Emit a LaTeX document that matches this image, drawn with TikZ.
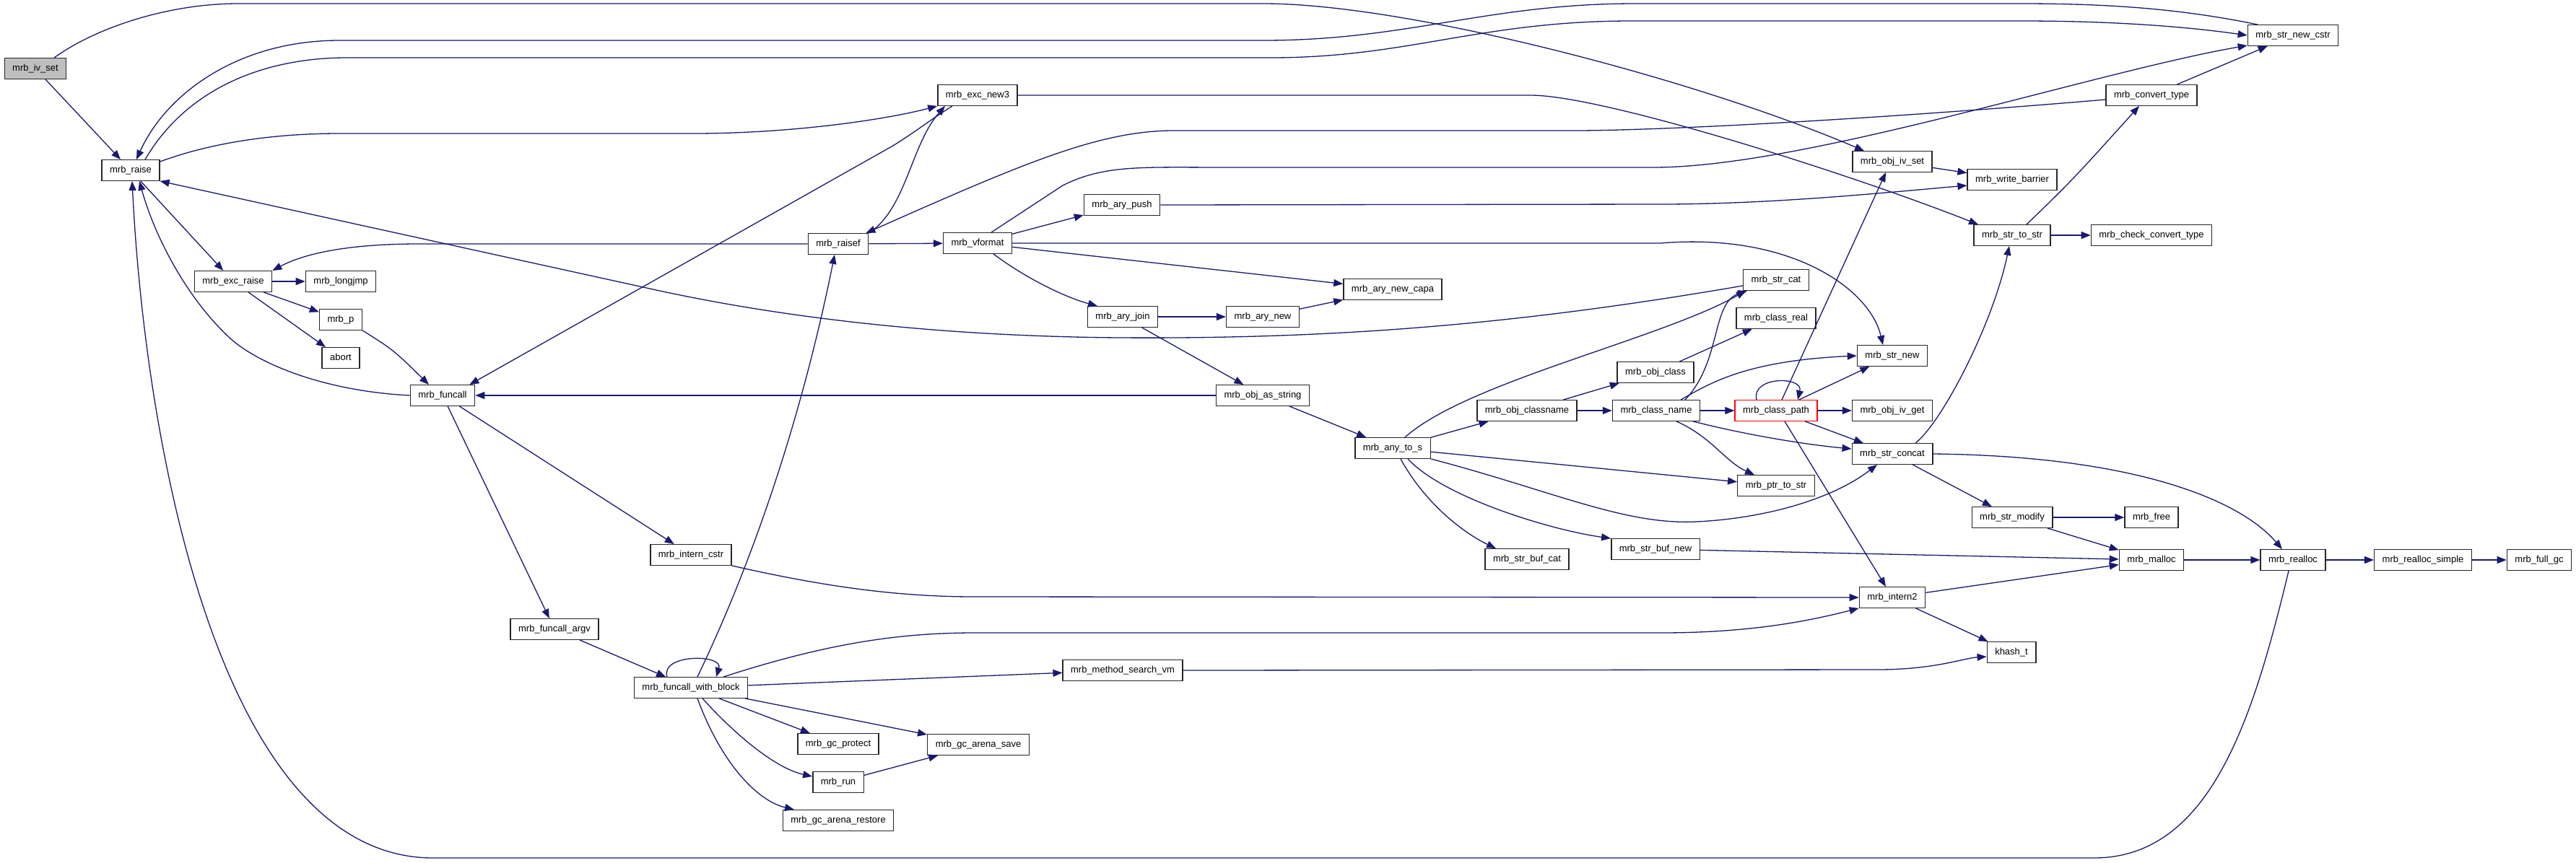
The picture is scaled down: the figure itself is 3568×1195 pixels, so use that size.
\documentclass[tikz,border=0pt]{standalone}
\usepackage{fontspec}
\newfontfamily\dxfont{Liberation Sans}
\usepackage{tikz}
\usetikzlibrary{arrows.meta}
\definecolor{callblue}{HTML}{191970}

\begin{document}
\begin{tikzpicture}[x=1pt, y=-1pt,
  fn/.style={draw=black!85, line width=1.4pt, fill=white, inner xsep=11pt, inner ysep=0pt,
    text height=10pt, text depth=3.5pt, minimum height=28.5pt, font=\dxfont\fontsize{13}{15}\selectfont},
  call/.style={draw=callblue, line width=1.3pt, -{Triangle[length=13pt,width=10pt]}}]
  \fill[white] (0,0) rectangle (3568,1195);
  \useasboundingbox (0,0) rectangle (3568,1195);

  % functions, column by column
  \node[fn, fill=black!25] (iv_set) at (49,95) {mrb\_iv\_set};
  \node[fn] (raise) at (181,236) {mrb\_raise};
  \node[fn] (exc_raise) at (323,390) {mrb\_exc\_raise};
  \node[fn] (longjmp) at (472,390) {mrb\_longjmp};
  \node[fn] (p) at (472,443) {mrb\_p};
  \node[fn] (abort) at (472,496) {abort};
  \node[fn] (funcall) at (613,548) {mrb\_funcall};
  \node[fn] (funcall_argv) at (768,872) {mrb\_funcall\_argv};
  \node[fn] (intern_cstr) at (957,769) {mrb\_intern\_cstr};
  \node[fn] (fwb) at (957,953) {mrb\_funcall\_with\_block};
  \node[fn] (raisef) at (1161,338) {mrb\_raisef};
  \node[fn] (gc_protect) at (1161,1031) {mrb\_gc\_protect};
  \node[fn] (run) at (1161,1084) {mrb\_run};
  \node[fn] (gc_restore) at (1161,1137) {mrb\_gc\_arena\_restore};
  \node[fn] (exc_new3) at (1354,132) {mrb\_exc\_new3};
  \node[fn] (vformat) at (1354,337) {mrb\_vformat};
  \node[fn] (gc_save) at (1355,1032) {mrb\_gc\_arena\_save};
  \node[fn] (ary_push) at (1554,284) {mrb\_ary\_push};
  \node[fn] (ary_join) at (1555,439) {mrb\_ary\_join};
  \node[fn] (search_vm) at (1555,929) {mrb\_method\_search\_vm};
  \node[fn] (ary_new) at (1749,439) {mrb\_ary\_new};
  \node[fn] (obj_as_string) at (1749,548) {mrb\_obj\_as\_string};
  \node[fn] (ary_new_capa) at (1929,401) {mrb\_ary\_new\_capa};
  \node[fn] (any_to_s) at (1929,621) {mrb\_any\_to\_s};
  \node[fn] (obj_classname) at (2115,569) {mrb\_obj\_classname};
  \node[fn] (str_buf_cat) at (2115,775) {mrb\_str\_buf\_cat};
  \node[fn] (obj_class) at (2293,516) {mrb\_obj\_class};
  \node[fn] (class_name) at (2294,569) {mrb\_class\_name};
  \node[fn] (str_buf_new) at (2293,761) {mrb\_str\_buf\_new};
  \node[fn] (str_cat) at (2460,388) {mrb\_str\_cat};
  \node[fn] (class_real) at (2460,441) {mrb\_class\_real};
  \node[fn, draw=red] (class_path) at (2460,569) {mrb\_class\_path};
  \node[fn] (ptr_to_str) at (2460,673) {mrb\_ptr\_to\_str};
  \node[fn] (obj_iv_set) at (2621,224) {mrb\_obj\_iv\_set};
  \node[fn] (str_new) at (2621,493) {mrb\_str\_new};
  \node[fn] (obj_iv_get) at (2621,569) {mrb\_obj\_iv\_get};
  \node[fn] (str_concat) at (2621,629) {mrb\_str\_concat};
  \node[fn] (intern2) at (2621,828) {mrb\_intern2};
  \node[fn] (write_barrier) at (2787,249) {mrb\_write\_barrier};
  \node[fn] (str_to_str) at (2787,326) {mrb\_str\_to\_str};
  \node[fn] (str_modify) at (2787,717) {mrb\_str\_modify};
  \node[fn] (khash) at (2786,904) {khash\_t};
  \node[fn] (convert_type) at (2980,132) {mrb\_convert\_type};
  \node[fn] (check_convert) at (2980,326) {mrb\_check\_convert\_type};
  \node[fn] (free) at (2980,717) {mrb\_free};
  \node[fn] (malloc) at (2980,776) {mrb\_malloc};
  \node[fn] (str_new_cstr) at (3176,49) {mrb\_str\_new\_cstr};
  \node[fn] (realloc) at (3176,776) {mrb\_realloc};
  \node[fn] (realloc_simple) at (3356,776) {mrb\_realloc\_simple};
  \node[fn] (full_gc) at (3517,776) {mrb\_full\_gc};

  % mrb_iv_set and mrb_raise
  \draw[call] (iv_set) -- (raise);
  \draw[call] ([xshift=26pt]iv_set.north) .. controls (130,40) and (230,5) .. (330,5) -- (1750,5)
    .. controls (1950,5) and (2350,110) .. ([xshift=-39pt]obj_iv_set.north);
  \draw[call] (raise) -- (exc_raise);
  \draw[call] ([yshift=12pt]raise.east) .. controls (300,195) and (390,185) .. (470,185) -- (960,185)
    .. controls (1100,185) and (1230,165) .. (exc_new3.south west);
  \draw[call] ([xshift=20pt]raise.north) .. controls (260,120) and (370,80) .. (480,80) -- (1760,80)
    .. controls (1950,80) and (2050,29) .. (2260,29) -- (2800,29)
    .. controls (2950,29) and (3050,40) .. (str_new_cstr.west);

  % calls back into mrb_raise
  \draw[call] ([xshift=-49pt]str_new_cstr.north) .. controls (3020,12) and (2920,5) .. (2800,5) -- (2265,5)
    .. controls (2060,5) and (1950,56) .. (1750,56) -- (470,56)
    .. controls (330,56) and (230,130) .. ([xshift=8pt]raise.north);
  \draw[call] ([yshift=-8pt]str_cat.west) .. controls (2100,450) and (1850,470) .. (1550,468)
    .. controls (1300,466) and (1080,440) .. (900,400) -- (raise.south east);
  \draw[call] (funcall.west) .. controls (450,542) and (360,505) .. (320,470)
    .. controls (260,415) and (215,330) .. ([xshift=12pt]raise.south);
  \draw[call] ([xshift=-6pt]realloc.south) .. controls (3120,1000) and (3060,1189) .. (2900,1189) -- (600,1189)
    .. controls (300,1189) and (200,600) .. ([xshift=2pt]raise.south);

  % mrb_exc_raise and mrb_funcall
  \draw[call] (exc_raise) -- (longjmp);
  \draw[call] (exc_raise) -- (p);
  \draw[call] (exc_raise) -- (abort);
  \draw[call] (p.south east) .. controls (545,485) .. ([xshift=-19pt]funcall.north);
  \draw[call] (funcall) -- (funcall_argv);
  \draw[call] (funcall) -- (intern_cstr);
  \draw[call] ([xshift=-35pt]exc_new3.south) .. controls (1290,165) and (1265,185) .. (1235,203)
    -- ([xshift=-8pt]funcall.north east);
  \draw[call] (obj_as_string) -- (funcall);

  % mrb_funcall_with_block
  \draw[call] (funcall_argv) -- (fwb);
  \draw[call] ([xshift=-33pt]fwb.north) .. controls +(-10,-32) and +(10,-32) .. ([xshift=35pt]fwb.north);
  \draw[call] ([xshift=9pt]fwb.north) .. controls (1057,748) and (1118,542) .. ([xshift=-5pt]raisef.south);
  \draw[call] ([xshift=45pt]fwb.north) .. controls (1150,890) and (1250,877) .. (1350,877) -- (2300,877)
    .. controls (2420,877) and (2500,862) .. (intern2.south west);
  \draw[call] (fwb) -- (search_vm);
  \draw[call] (fwb) -- (gc_protect);
  \draw[call] (fwb) -- (gc_save);
  \draw[call] ([xshift=16pt]fwb.south) .. controls (1020,1020) and (1075,1065) .. ([yshift=8pt]run.west);
  \draw[call] ([xshift=9pt]fwb.south) .. controls (1000,1060) and (1050,1110) .. ([xshift=-61pt]gc_restore.north);
  \draw[call] (run) -- (gc_save);
  \draw[call] (intern_cstr.south east) .. controls (1150,815) and (1250,827) .. (1350,827) -- (intern2.west);
  \draw[call] (search_vm.east) -- (2600,928) .. controls (2680,928) and (2720,912) .. ([yshift=-6pt]khash.west);

  % mrb_raisef and mrb_vformat
  \draw[call] (raisef) -- (vformat);
  \draw[call] (raisef.north east) .. controls (1255,290) and (1262,200) .. ([xshift=-45pt]exc_new3.south);
  \draw[call] (raisef.west) -- (580,338) .. controls (480,338) and (420,352) .. (exc_raise.north east);
  \draw[call] (vformat) -- (ary_push);
  \draw[call] ([xshift=22pt]vformat.south) .. controls (1420,385) and (1475,412) .. ([xshift=-35pt]ary_join.north);
  \draw[call] (vformat) -- (ary_new_capa);
  \draw[call] (vformat.east) -- (2300,337) .. controls (2480,322) and (2590,400) .. ([xshift=-13pt]str_new.north);
  \draw[call] ([xshift=19pt]vformat.north) -- (1472,257) .. controls (1530,228) and (1580,232) .. (1700,232)
    -- (2290,232) .. controls (2500,232) and (2900,100) .. ([yshift=-14pt]str_new_cstr.west);
  \draw[call] (ary_join) -- (ary_new);
  \draw[call] (ary_new) -- (ary_new_capa);
  \draw[call] (ary_join) -- (obj_as_string);
  \draw[call] (ary_push.east) -- (2300,283) .. controls (2450,283) and (2600,268) .. ([yshift=-8pt]write_barrier.west);

  % mrb_exc_new3 and mrb_convert_type
  \draw[call] (exc_new3.east) -- (2120,132) .. controls (2220,132) and (2560,240) .. ([xshift=-47pt]str_to_str.north);
  \draw[call] ([yshift=-6pt]convert_type.west) .. controls (2600,165) and (2300,181) .. (2180,181) -- (1620,181)
    .. controls (1520,183) and (1420,225) .. ([xshift=-4pt]raisef.north east);
  \draw[call] (convert_type) -- (str_new_cstr);
  \draw[call] (str_to_str) -- (check_convert);
  \draw[call] ([xshift=20pt]str_to_str.north) .. controls (2870,250) .. ([xshift=-17pt]convert_type.south);
  \draw[call] (obj_iv_set) -- (write_barrier);

  % mrb_any_to_s
  \draw[call] (obj_as_string) -- (any_to_s);
  \draw[call] (any_to_s) -- (obj_classname);
  \draw[call] (any_to_s) -- (ptr_to_str);
  \draw[call] ([xshift=17pt]any_to_s.north) .. controls (2030,530) and (2300,470) .. ([xshift=-42pt]str_cat.south);
  \draw[call] (any_to_s.south east) .. controls (2150,680) and (2250,728) .. (2350,723)
    .. controls (2450,718) and (2540,690) .. ([xshift=-21pt]str_concat.south);
  \draw[call] ([xshift=11pt]any_to_s.south) .. controls (1975,700) and (2030,740) .. ([xshift=-43pt]str_buf_cat.north);
  \draw[call] ([xshift=21pt]any_to_s.south) .. controls (2000,690) and (2150,735) .. (str_buf_new.north west);

  % class names
  \draw[call] (obj_classname) -- (class_name);
  \draw[call] (obj_classname) -- (obj_class);
  \draw[call] (obj_class) -- (class_real);
  \draw[call] (class_name) -- (class_path);
  \draw[call] ([xshift=51pt]class_name.south) .. controls (2420,603) and (2500,616) .. ([yshift=7pt]str_concat.west);
  \draw[call] ([xshift=28pt]class_name.south) .. controls (2370,605) and (2390,640) .. ([xshift=-30pt]ptr_to_str.north);
  \draw[call] ([xshift=40pt]class_name.north) .. controls (2385,500) and (2370,420) .. ([xshift=-40pt]str_cat.south);
  \draw[call] ([xshift=34pt]class_name.north) .. controls (2370,530) and (2420,500) .. (str_new.west);
  \draw[call] ([xshift=-27pt]class_path.north) .. controls +(-8,-33) and +(8,-33) .. ([xshift=30pt]class_path.north);
  \draw[call] (class_path) -- (str_new);
  \draw[call] (class_path) -- (obj_iv_get);
  \draw[call] (class_path) -- (str_concat);
  \draw[call] ([xshift=12pt]class_path.south) -- ([xshift=-9pt]intern2.north);
  \draw[call] ([xshift=8pt]class_path.north) -- ([xshift=-9pt]obj_iv_set.south);

  % strings and memory
  \draw[call] (str_concat) -- (str_modify);
  \draw[call] (str_concat.east) .. controls (2950,632) and (3100,690) .. ([xshift=-15pt]realloc.north);
  \draw[call] ([xshift=32pt]str_concat.north) .. controls (2690,585) and (2760,450) .. ([xshift=-4pt]str_to_str.south);
  \draw[call] (str_modify) -- (free);
  \draw[call] (str_modify) -- (malloc);
  \draw[call] (str_buf_new) -- (malloc);
  \draw[call] (intern2) -- (malloc);
  \draw[call] (intern2) -- (khash);
  \draw[call] (malloc) -- (realloc);
  \draw[call] (realloc) -- (realloc_simple);
  \draw[call] (realloc_simple) -- (full_gc);
\end{tikzpicture}
\end{document}
